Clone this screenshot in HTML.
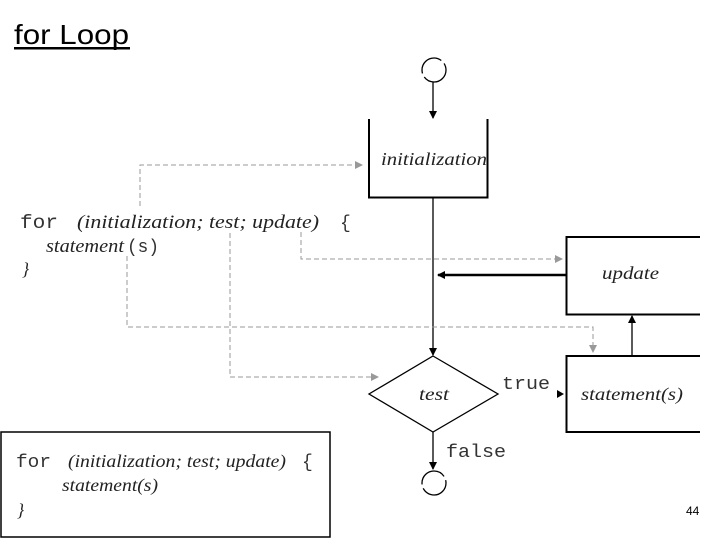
<!DOCTYPE html>
<html><head><meta charset="utf-8"><style>
html,body{margin:0;padding:0;background:#fff;width:720px;height:540px;overflow:hidden}
.m{font-family:"Liberation Mono",monospace;fill:#333}
.s{font-family:"Liberation Serif",serif;font-style:italic;fill:#222}
</style></head><body>
<svg width="720" height="540" viewBox="0 0 720 540" xmlns="http://www.w3.org/2000/svg">
<defs>
<marker id="a" markerWidth="8" markerHeight="8" refX="7" refY="4" orient="auto" markerUnits="userSpaceOnUse"><path d="M0,0 L8,4 L0,8z" fill="#000"/></marker>
<marker id="g" markerWidth="8" markerHeight="8" refX="7" refY="4" orient="auto" markerUnits="userSpaceOnUse"><path d="M0,0 L8,4 L0,8z" fill="#999"/></marker>
</defs>
<text x="14" y="44" font-family="Liberation Sans,sans-serif" font-size="28" fill="#000" textLength="115" lengthAdjust="spacingAndGlyphs">for Loop</text>
<rect x="14" y="47" width="116" height="2.5" fill="#000"/>

<circle cx="434" cy="70" r="12" fill="none" stroke="#000" stroke-width="1.3" stroke-dasharray="30 4"/>
<line x1="433" y1="82" x2="433" y2="118" stroke="#000" stroke-width="1.3" marker-end="url(#a)"/>
<path d="M369,119 V197.5 H487.5 V119" fill="none" stroke="#000" stroke-width="2"/>
<text x="381" y="165" class="s" font-size="18" textLength="106" lengthAdjust="spacingAndGlyphs">initialization</text>
<line x1="433" y1="198" x2="433" y2="355" stroke="#000" stroke-width="1.3" marker-end="url(#a)"/>

<path d="M700,237 H566.5 V314.5 H700" fill="none" stroke="#000" stroke-width="2"/>
<text x="602" y="279" class="s" font-size="18" textLength="57" lengthAdjust="spacingAndGlyphs">update</text>
<line x1="566" y1="275" x2="438" y2="275" stroke="#000" stroke-width="2.5" marker-end="url(#a)"/>

<path d="M700,356 H566.5 V432 H700" fill="none" stroke="#000" stroke-width="2"/>
<text x="581" y="400" class="s" font-size="18" textLength="102" lengthAdjust="spacingAndGlyphs">statement(s)</text>
<line x1="632" y1="355" x2="632" y2="316" stroke="#000" stroke-width="1.3" marker-end="url(#a)"/>

<path d="M433,356 L498,394 L433,432 L369,394 Z" fill="none" stroke="#000" stroke-width="1.3"/>
<text x="419" y="400" class="s" font-size="18" textLength="30" lengthAdjust="spacingAndGlyphs">test</text>
<text x="502" y="389" class="m" font-size="18" textLength="48" lengthAdjust="spacingAndGlyphs">true</text>
<path d="M557,390 L564,394 L557,398z" fill="#000"/>
<line x1="433" y1="432" x2="433" y2="469" stroke="#000" stroke-width="1.3" marker-end="url(#a)"/>
<text x="446" y="457" class="m" font-size="18" textLength="60" lengthAdjust="spacingAndGlyphs">false</text>
<circle cx="434" cy="483" r="12" fill="none" stroke="#000" stroke-width="1.3" stroke-dasharray="32 4"/>

<text x="20" y="228" class="m" font-size="19" textLength="38" lengthAdjust="spacingAndGlyphs">for</text>
<text x="77" y="228" class="s" font-size="19" textLength="242" lengthAdjust="spacingAndGlyphs">(initialization;&#160;test;&#160;update)</text>
<text x="340" y="228" class="m" font-size="18" fill="#999">{</text>
<text x="46" y="252" class="s" font-size="19" textLength="78" lengthAdjust="spacingAndGlyphs">statement</text>
<text x="127" y="252" class="m" font-size="18" textLength="32" lengthAdjust="spacingAndGlyphs">(s)</text>
<text x="22" y="275" class="s" font-size="18" fill="#777">}</text>

<g fill="none" stroke="#999" stroke-width="1" stroke-dasharray="5 3">
<path d="M140,206 V165 H362" marker-end="url(#g)"/>
<path d="M301,232 V259 H562" marker-end="url(#g)"/>
<path d="M127,256 V327 H593 V352" marker-end="url(#g)"/>
<path d="M230,233 V377 H378" marker-end="url(#g)"/>
</g>

<rect x="1" y="432" width="329" height="105" fill="none" stroke="#000" stroke-width="1.5"/>
<text x="16" y="467" class="m" font-size="18" textLength="35" lengthAdjust="spacingAndGlyphs">for</text>
<text x="68" y="467" class="s" font-size="18" textLength="218" lengthAdjust="spacingAndGlyphs">(initialization; test; update)</text>
<text x="302" y="467" class="m" font-size="18">{</text>
<text x="62" y="491" class="s" font-size="18" textLength="96" lengthAdjust="spacingAndGlyphs">statement(s)</text>
<text x="17" y="516" class="s" font-size="18">}</text>
<text x="686" y="515" font-family="Liberation Sans,sans-serif" font-size="12" fill="#000">44</text>
</svg>
</body></html>
